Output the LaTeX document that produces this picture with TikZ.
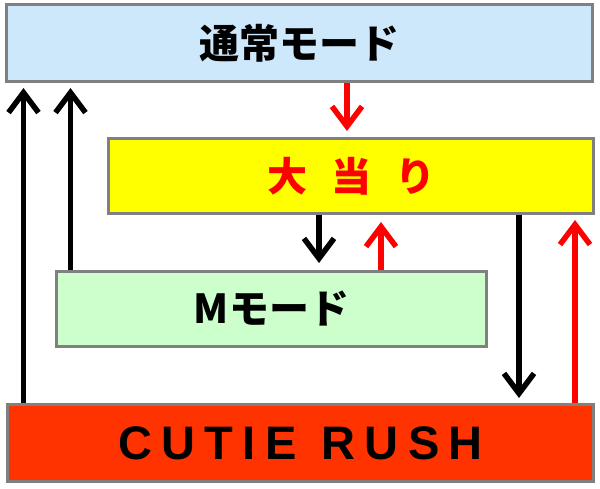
\documentclass[tikz,border=0pt]{standalone}
\usepackage{fontspec}
\usetikzlibrary{arrows.meta}
\newfontfamily\jpfont{Noto Sans CJK JP}
\newfontfamily\latinbold{Liberation Sans}[LetterSpace=20]
\definecolor{boxgrey}{RGB}{128,128,128}
\definecolor{topblue}{RGB}{204,232,250}
\definecolor{hityellow}{RGB}{255,255,0}
\definecolor{mgreen}{RGB}{204,255,204}
\definecolor{rushred}{RGB}{255,51,0}
\definecolor{arrred}{RGB}{255,0,0}
\tikzset{
  modebox/.style={draw=boxgrey, line width=3pt, inner sep=0pt, anchor=center},
  jptext/.style={font=\jpfont\bfseries\fontsize{40}{40}\selectfont},
  flowarrow/.style={line width=5.5pt, -{Straight Barb[length=20pt,width=30pt]}},
  blackarrow/.style={flowarrow, draw=black},
  redarrow/.style={flowarrow, draw=arrred}
}
\begin{document}
\begin{tikzpicture}[x=1pt,y=-1pt]
\useasboundingbox (0,0) rectangle (600,488);
\node[modebox, fill=topblue, minimum width=586pt, minimum height=77pt, jptext] (top) at (299.5,43) {通常モード};
\node[modebox, fill=hityellow, minimum width=485pt, minimum height=75pt, jptext, text=arrred] (hit) at (351,176) {\spaceskip=24pt 大 当 り};
\node[modebox, fill=mgreen, minimum width=430pt, minimum height=75pt, jptext] (mmode) at (271.5,309) {Mモード};
\node[modebox, fill=rushred, minimum width=586pt, minimum height=77pt, font=\latinbold\bfseries\fontsize{47}{47}\selectfont] (rush) at (300.5,443) {\spaceskip=25pt CUTIE RUSH};
% arrows
\draw[blackarrow, shorten >=5pt] ([xshift=17.5pt]rush.north west) -- ([xshift=18.5pt]top.south west);
\draw[blackarrow, shorten >=5pt] ([xshift=15.5pt]mmode.north west) -- ([xshift=65.5pt]top.south west);
\draw[redarrow, shorten >=6pt] ([xshift=342pt]top.south west) -- ([xshift=240pt]hit.north west);
\draw[blackarrow, shorten >=7pt] ([xshift=212pt]hit.south west) -- ([xshift=264pt]mmode.north west);
\draw[redarrow, shorten >=7pt] ([xshift=326pt]mmode.north west) -- ([xshift=274pt]hit.south west);
\draw[blackarrow, shorten >=5pt] ([xshift=-76pt]hit.south east) -- ([xshift=513pt]rush.north west);
\draw[redarrow, shorten >=5pt] ([xshift=569pt]rush.north west) -- ([xshift=-20pt]hit.south east);
\end{tikzpicture}
\end{document}
